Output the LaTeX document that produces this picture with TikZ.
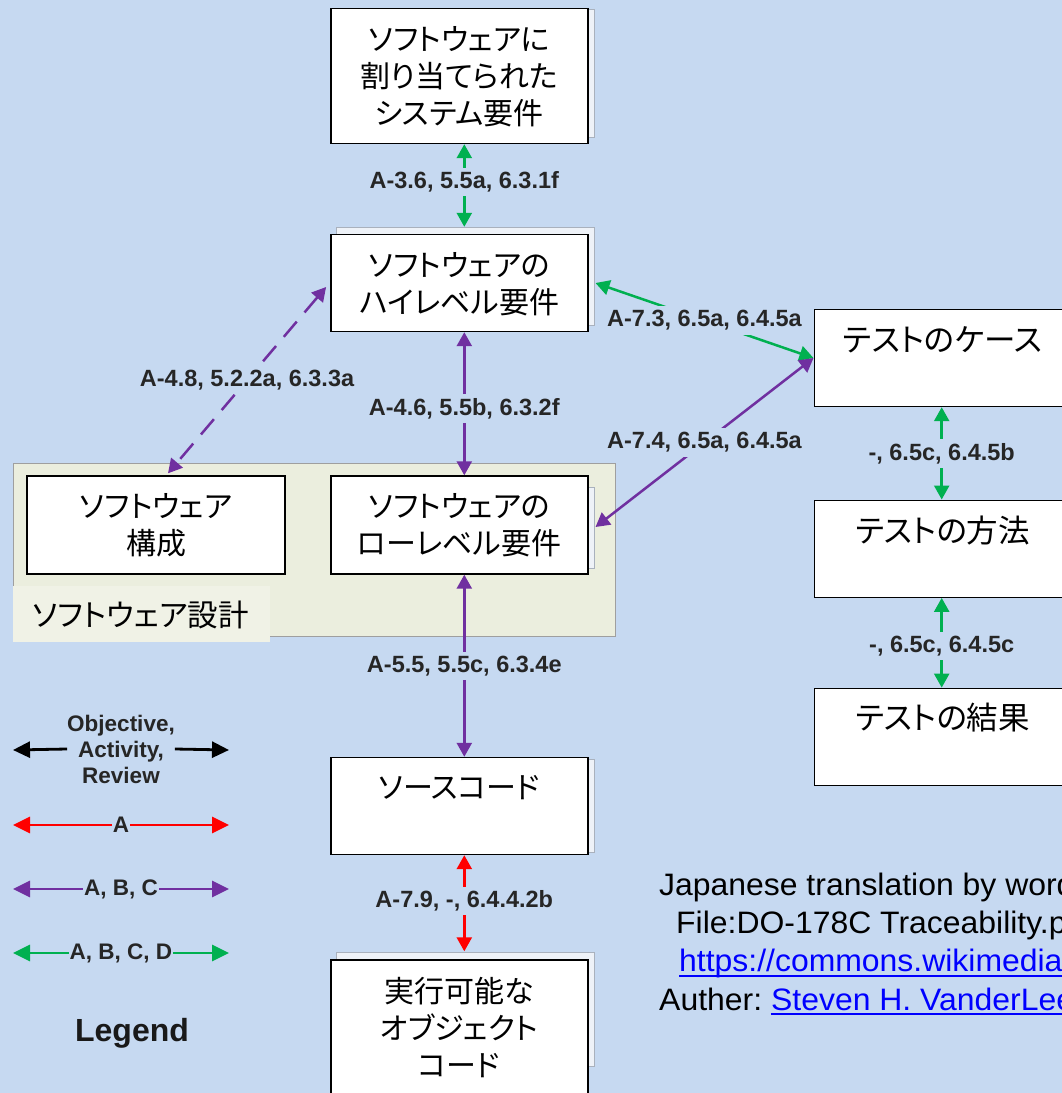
\documentclass[tikz,border=0pt]{standalone}
\usepackage{fontspec}
\usetikzlibrary{arrows.meta}
\setmainfont{Liberation Sans}
\newfontfamily\jp{Noto Sans CJK JP}[RawFeature=+palt]
\newfontfamily\credfont{Liberation Sans}[FakeStretch=1.03]
\definecolor{bg}{HTML}{C6D9F1}
\definecolor{dgreen}{HTML}{00B050}
\definecolor{dpurple}{HTML}{7030A0}
\definecolor{dred}{HTML}{FF0000}
\definecolor{design}{HTML}{EBEEDE}
\definecolor{designlab}{HTML}{F0F2E6}
\definecolor{shadowfill}{HTML}{EEF2F8}
\definecolor{shadowline}{HTML}{A9B1BD}
\definecolor{linkblue}{HTML}{0000FF}
\begin{document}
\begin{tikzpicture}[x=1pt,y=-1pt,
  box/.style={draw=black, line width=1.4pt, fill=white, inner sep=0pt, minimum width=257pt},
  shadowbox/.style={draw=shadowline, fill=shadowfill, line width=0.8pt},
  boxtext/.style={font=\jp\fontsize{30}{37}\selectfont, align=center, inner sep=0pt},
  testtext/.style={font=\jp\fontsize{31.5}{37}\selectfont, align=center, inner sep=0pt},
  lbl/.style={font=\bfseries\fontsize{23.5}{26}\selectfont, text=black!85, fill=bg, inner xsep=3pt, inner ysep=4pt},
  conn/.style={line width=2.5pt, {Triangle[length=14pt,width=15pt]}-{Triangle[length=14pt,width=15pt]}},
  legline/.style={line width=2.8pt, -{Triangle[length=17pt,width=16pt]}},
  legboth/.style={line width=2.8pt, {Triangle[length=17pt,width=16pt]}-{Triangle[length=17pt,width=16pt]}},
  leglbl/.style={font=\bfseries\fontsize{22.5}{26}\selectfont, text=black!85, fill=bg, inner xsep=1pt, inner ysep=1pt},
  credit/.style={font=\credfont\fontsize{31}{37}\selectfont, inner sep=0pt, anchor=base west}
]
\path[use as bounding box] (0,0) rectangle (1062,1093);
\clip (0,0) rectangle (1062,1093);
\fill[bg] (0,0) rectangle (1062,1093);

% design container
\node[draw=gray!75, fill=design, line width=1pt, inner sep=0pt, minimum width=601.5pt, minimum height=173pt] (design) at (314.25,550) {};
\fill[designlab] (13,585.5) rectangle (270,642);
\node[font=\jp\fontsize{30.5}{37}\selectfont, anchor=west, inner sep=0pt] (designT) at (32.5,615) {ソフトウェア設計};

% shadows
\draw[shadowbox] (336,9) rectangle (594,137);
\draw[shadowbox] (336,227) rectangle (594,325);
\draw[shadowbox] (336,487) rectangle (594,568);
\draw[shadowbox] (336,759) rectangle (594,852);
\draw[shadowbox] (336,952) rectangle (594,1066);

% boxes
\node[box, minimum height=135pt] (sys) at (459.3,76) {};
\node[box, minimum height=97pt] (hl) at (459.3,283) {};
\node[box, minimum height=98pt, minimum width=258pt] (cfg) at (156,525) {};
\node[box, minimum height=98pt] (ll) at (459.3,525) {};
\node[box, minimum height=97pt] (tc) at (942.7,358) {};
\node[box, minimum height=97pt] (tm) at (942.7,548.7) {};
\node[box, minimum height=97pt] (tr) at (942.7,736.8) {};
\node[box, minimum height=97pt] (src) at (459.3,806) {};
\node[box, minimum height=134pt] (exe) at (459.3,1027) {};

% box texts
\node[boxtext] (sysT) at (459.3,77) {ソフトウェアに\\割り当てられた\\システム要件};
\node[boxtext] (hlT) at (459.3,284) {ソフトウェアの\\ハイレベル要件};
\node[boxtext] (cfgT) at (156,525.4) {ソフトウェア\\構成};
\node[boxtext] (llT) at (459.3,525.4) {ソフトウェアの\\ローレベル要件};
\node[testtext] (tcT) at (942.7,340) {テストのケース};
\node[testtext] (tmT) at (942.7,531) {テストの方法};
\node[testtext] (trT) at (942.7,718) {テストの結果};
\node[boxtext] (srcT) at (459.3,787.7) {ソースコード};
\node[boxtext] (exeT) at (459.3,1027.5) {実行可能な\\オブジェクト\\コード};

% connectors
\draw[conn, dgreen] ([xshift=5pt]sys.south) -- node[lbl, pos=0.457] (l1) {A-3.6, 5.5a, 6.3.1f} ([xshift=5pt,yshift=7pt]hl.north);
\draw[conn, dpurple] ([xshift=5pt]hl.south) -- node[lbl, pos=0.535] (l2) {A-4.6, 5.5b, 6.3.2f} ([xshift=5pt]ll.north);
\draw[conn, dpurple] ([xshift=5pt]ll.south) -- node[lbl, pos=0.5] (l3) {A-5.5, 5.5c, 6.3.4e} ([xshift=5pt]src.north);
\draw[conn, dred] ([xshift=5pt]src.south) -- node[lbl, pos=0.476] (l4) {A-7.9, -, 6.4.4.2b} ([xshift=5pt,yshift=8pt]exe.north);
\draw[conn, dpurple, dash pattern=on 20pt off 12pt] ([xshift=-4pt,yshift=-4pt]hl.west) -- node[lbl] (l5) {A-4.8, 5.2.2a, 6.3.3a} ([xshift=12pt,yshift=2pt]cfg.north);
\draw[conn, dgreen] ([xshift=7pt]hl.east) -- node[lbl] (l6) {A-7.3, 6.5a, 6.4.5a} (tc.west);
\draw[conn, dpurple] (tc.west) -- node[lbl] (l7) {A-7.4, 6.5a, 6.4.5a} ([xshift=7pt,yshift=-2pt]ll.east);
\draw[conn, dgreen] ([xshift=-1pt]tc.south) -- node[lbl, pos=0.5] (l8) {-, 6.5c, 6.4.5b} ([xshift=-1pt]tm.north);
\draw[conn, dgreen] ([xshift=-1pt]tm.south) -- node[lbl, pos=0.54] (l9) {-, 6.5c, 6.4.5c} ([xshift=-1pt]tr.north);

% legend
\node[leglbl, align=center, inner xsep=0pt] (legK) at (121,749) {Objective,\\Activity,\\Review};
\coordinate (legKl) at (13,750);
\coordinate (legKr) at (229,750);
\draw[legline, black] (legK.west) -- (legKl);
\draw[legline, black] (legK.east) -- (legKr);
\coordinate (legAl) at (13,825);
\coordinate (legAr) at (229,825);
\draw[legboth, dred] (legAl) -- node[leglbl] (legA) {A} (legAr);
\coordinate (legBl) at (13,889);
\coordinate (legBr) at (229,889);
\draw[legboth, dpurple] (legBl) -- node[leglbl] (legB) {A, B, C} (legBr);
\coordinate (legCl) at (13,953);
\coordinate (legCr) at (229,953);
\draw[legboth, dgreen] (legCl) -- node[leglbl] (legC) {A, B, C, D} (legCr);
\node[font=\bfseries\fontsize{32}{36}\selectfont, text=black!90] (legend) at (132,1033) {Legend};

% credits
\node[credit] (cr1) at (659,895) {Japanese translation by word};
\node[credit] (cr2) at (676,933) {File:DO-178C Traceability.p};
\node[credit, text=linkblue] (cr3) at (679,971) {https://commons.wikimedia};
\draw[linkblue, line width=2pt] ([yshift=-5pt]cr3.base west) -- ([yshift=-5pt,xshift=30pt]cr3.base east);
\node[credit] (cr4) at (659,1010) {Auther:};
\node[credit, text=linkblue] (cr5) at ([xshift=8.6pt]cr4.base east) {Steven H. VanderLee};
\draw[linkblue, line width=2pt] ([yshift=-4pt]cr5.base west) -- ([yshift=-4pt,xshift=30pt]cr5.base east);
\end{tikzpicture}
\end{document}
